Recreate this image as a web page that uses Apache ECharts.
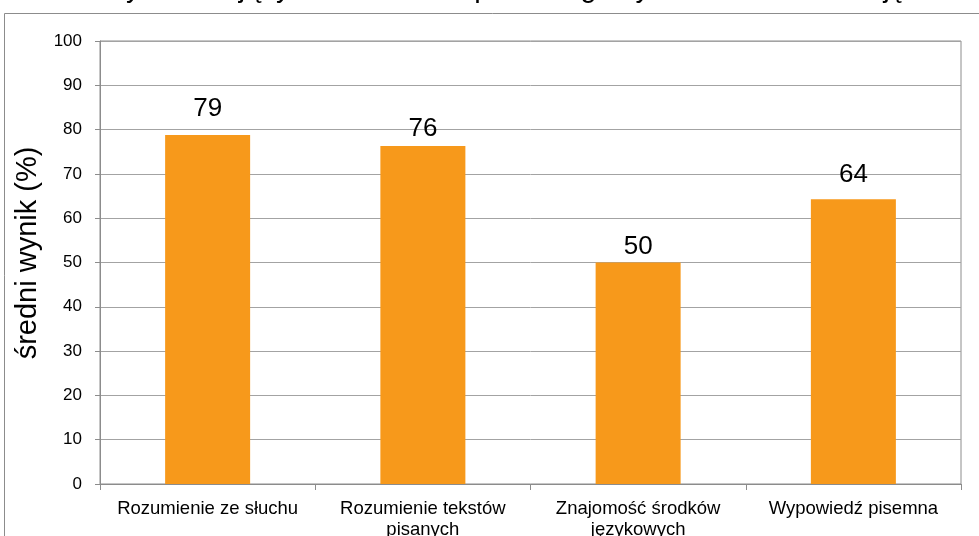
<!DOCTYPE html>
<html>
<head>
<meta charset="utf-8">
<script src="https://cdn.jsdelivr.net/npm/echarts@6/dist/echarts.min.js"></script>
<style>
html,body{margin:0;padding:0;background:#fff;}
#chart{width:979px;height:536px;}
</style>
</head>
<body>
<div id="chart"></div>
<script>
const titleText = 'Średnie wyniki zdających w zakresie poszczególnych obszarów umiejętności';
const categories = ['Rozumienie ze słuchu', 'Rozumienie tekstów\npisanych', 'Znajomość środków\njęzykowych', 'Wypowiedź pisemna'];
const values = [78.8, 76.3, 50.0, 64.3];
const yTicks = {min: 0, max: 100, interval: 10};
const yName = 'średni wynik (%)';
// label gap above each bar (styling only, px)
const labelGaps = [13, 4, 3, 11];

const chart = echarts.init(document.getElementById('chart'), null, {renderer: 'canvas'});
const F = 'Liberation Sans, Arial, sans-serif';
chart.setOption({
  animation: false,
  backgroundColor: '#ffffff',
  title: {
    text: titleText,
    left: 'center',
    top: -26,
    padding: 0,
    textStyle: {fontFamily: F, fontSize: 29, fontWeight: 'normal', color: '#000', lineHeight: 29}
  },
  graphic: [{
    type: 'rect',
    shape: {x: 4.5, y: 13.5, width: 1100, height: 700},
    style: {fill: 'none', stroke: '#8c8c8c', lineWidth: 1},
    silent: true, z: -1
  }],
  grid: {left: 100, right: 18, top: 41, bottom: 52, containLabel: false, outerBoundsMode: 'none',
    show: true, borderColor: '#8c8c8c', borderWidth: 1, backgroundColor: 'transparent'},
  xAxis: {
    type: 'category',
    data: categories,
    axisLine: {lineStyle: {color: '#8c8c8c', width: 1}},
    axisTick: {show: true, length: 6, lineStyle: {color: '#8c8c8c'}, alignWithLabel: false},
    axisLabel: {fontFamily: F, fontSize: 18.5, color: '#000', margin: 14, lineHeight: 21, interval: 0}
  },
  yAxis: {
    type: 'value',
    min: yTicks.min, max: yTicks.max, interval: yTicks.interval,
    name: yName,
    nameLocation: 'middle',
    nameGap: 50,
    nameTextStyle: {fontFamily: F, fontSize: 29, color: '#000', padding: [0, 0, 0, 19]},
    axisLine: {show: true, lineStyle: {color: '#8c8c8c', width: 1}},
    axisTick: {show: true, length: 5, lineStyle: {color: '#8c8c8c'}},
    axisLabel: {fontFamily: F, fontSize: 17, color: '#000', margin: 18},
    splitLine: {show: true, lineStyle: {color: '#a3a3a3', width: 1}}
  },
  series: [{
    type: 'bar',
    data: values.map((v, i) => ({value: v, label: {distance: labelGaps[i]}})),
    barWidth: 85,
    itemStyle: {color: '#F7991B'},
    label: {show: true, position: 'top', fontFamily: F, fontSize: 26, color: '#000',
      formatter: p => Math.round(p.value)}
  }]
});
</script>
</body>
</html>
